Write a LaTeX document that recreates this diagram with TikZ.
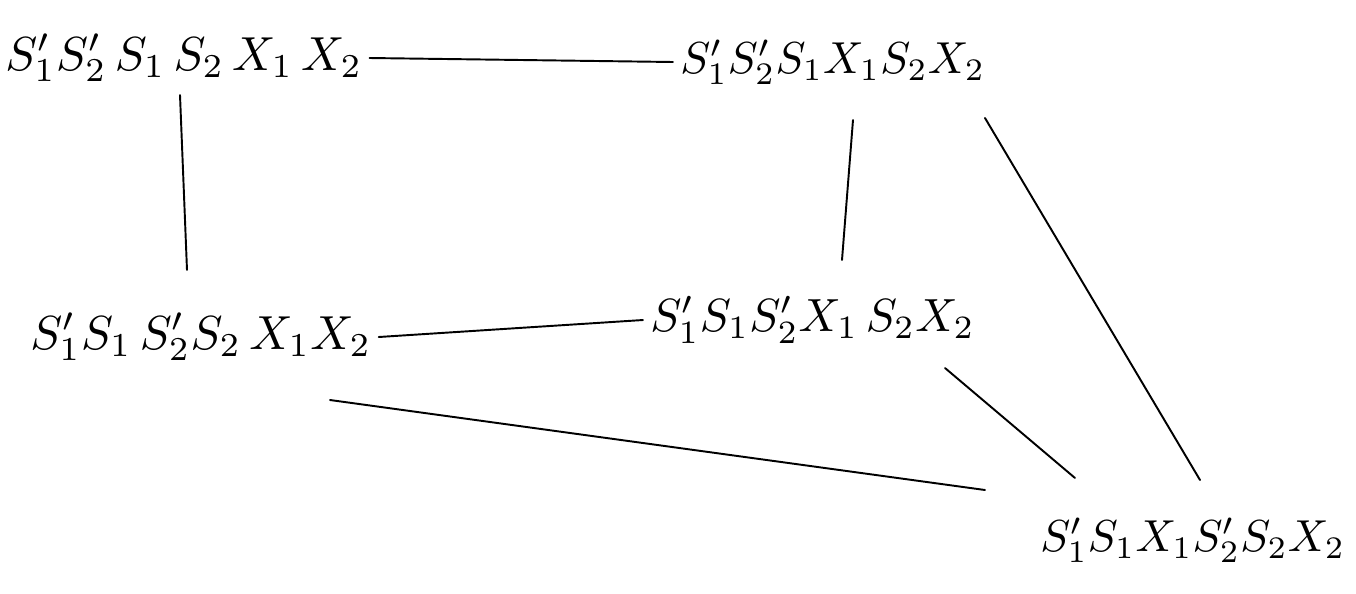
\documentclass[tikz,border=0pt]{standalone}
\usepackage{graphicx}
\usetikzlibrary{calc}
\newcommand{\hwlabel}[2][2.72]{\scalebox{#1}{$#2$}}
\begin{document}
\begin{tikzpicture}[x=0.02cm,y=-0.02cm,
  lbl/.style={inner sep=4pt,anchor=west},
  edge/.style={line width=1.1pt,line cap=round}]
\useasboundingbox (0,0) rectangle (1356,593);
\node[lbl] (TL) at (-2,58) {\hwlabel{S'_1 S'_2\, S_1\, S_2\, X_1\, X_2}};
\node[lbl] (TR) at (673,62) {\hwlabel[2.55]{S'_1 S'_2 S_1 X_1 S_2 X_2}};
\node[lbl] (ML) at (23,337) {\hwlabel{S'_1 S_1\, S'_2 S_2\, X_1 X_2}};
\node[lbl] (MR) at (643,320) {\hwlabel[2.65]{S'_1 S_1 S'_2 X_1\, S_2 X_2}};
\node[lbl] (BR) at (1033,540) {\hwlabel[2.55]{S'_1 S_1 X_1 S'_2 S_2 X_2}};
\draw[edge] (TL.east) -- (TR.west);
\draw[edge] ($(TL.west)+(182,37)$) -- ($(ML.west)+(164,-67)$);
\draw[edge] ($(TR.west)+(180,58)$) -- ($(MR.west)+(199,-60)$);
\draw[edge] ($(TR.west)+(312,56)$) -- ($(BR.west)+(167,-60)$);
\draw[edge] (ML.east) -- (MR.west);
\draw[edge] ($(MR.west)+(302,48)$) -- ($(BR.west)+(42,-62)$);
\draw[edge] ($(BR.west)+(-48,-50)$) -- ($(ML.west)+(307,63)$);
\end{tikzpicture}
\end{document}
